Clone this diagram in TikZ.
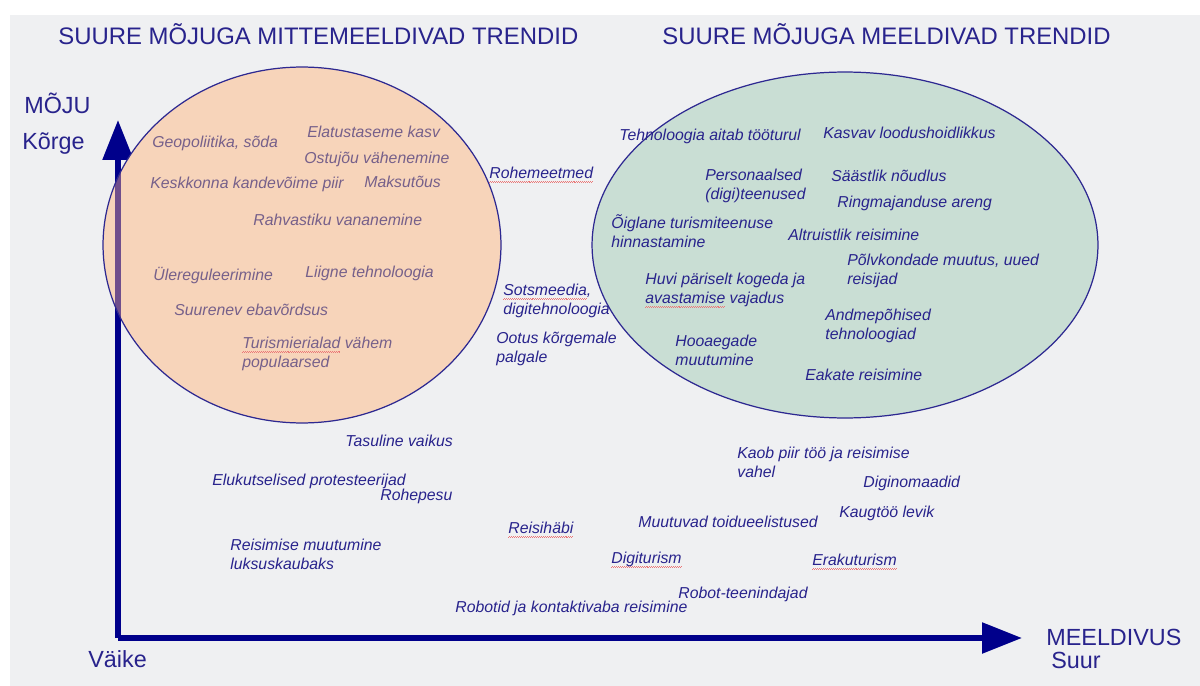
\documentclass[tikz,border=0pt]{standalone}
\usepackage{fontspec}
\setmainfont{Liberation Sans}
\usetikzlibrary{arrows.meta}

\definecolor{bggray}{RGB}{239,240,242}
\definecolor{axisblue}{RGB}{0,0,139}
\definecolor{trendblue}{RGB}{40,35,140}
\definecolor{mutedtext}{RGB}{118,96,138}
\definecolor{badfill}{RGB}{247,212,186}
\definecolor{goodfill}{RGB}{201,222,212}
\definecolor{rimblue}{RGB}{45,40,145}
\definecolor{shaftpurple}{RGB}{112,78,140}
\definecolor{wavered}{RGB}{235,120,120}

% red wavy underline of the spell checker
\newcommand\spellwave[1]{\leavevmode\setbox0\hbox{#1}%
    \rlap{\textcolor{wavered}{\hbox to \wd0{\xleaders\hbox{\rule[-2.7pt]{0.55pt}{0.35pt}\rule[-2.3pt]{0.55pt}{0.35pt}}\hfill}}}\box0\relax}

\begin{document}
\begin{tikzpicture}[x=0.02cm,y=-0.02cm,
    trend/.style={anchor=base west,inner sep=0pt,align=left,text=trendblue,
        font=\fontsize{9}{10.8}\selectfont\itshape},
    badtrend/.style={trend,text=mutedtext},
    heading/.style={anchor=base west,inner sep=0pt,text=trendblue,
        font=\fontsize{13.3}{15}\selectfont},
    axis/.style={line width=0.11cm,draw=axisblue,-{Triangle[length=0.8cm,width=0.6cm]}}]

    \useasboundingbox (0,0) rectangle (1200,686);
    \fill[bggray] (10,15) rectangle (1200,686);

    % axes
    \coordinate (origin) at (118,638);
    \coordinate (ytip) at (118,120);
    \coordinate (xtip) at (1022,638);
    \draw[axis] (origin) -- (ytip); % moju
    \draw[axis] (origin) -- (xtip); % meeldivus

    % ellipses
    \fill[badfill] (302,245) ellipse [x radius=3.98cm, y radius=3.56cm];
    \begin{scope}
        \clip (302,245) ellipse [x radius=3.98cm, y radius=3.56cm];
        \draw[line width=0.11cm,shaftpurple] (origin) -- (ytip);
    \end{scope}
    \draw[rimblue,line width=0.7pt] (302,245) ellipse [x radius=3.98cm, y radius=3.56cm];
    \filldraw[fill=goodfill,draw=rimblue,line width=0.7pt] (845,245) ellipse [x radius=5.06cm, y radius=3.46cm];

    % headings
    \node[heading,font=\fontsize{13.6}{15}\selectfont] (badtitle) at (58,45) {SUURE MÕJUGA MITTEMEELDIVAD TRENDID};
    \node[heading,font=\fontsize{13.6}{15}\selectfont] (goodtitle) at (662,45) {SUURE MÕJUGA MEELDIVAD TRENDID};
    \node[heading] (moju) at (24,113) {MÕJU};
    \node[heading] (korge) at (22,150) {Kõrge};
    \node[heading] (vaike) at (88,667) {Väike};
    \node[heading] (meeldivus) at (1046,645) {MEELDIVUS};
    \node[heading] (suur) at (1051,668) {Suur};

    % unpleasant trends (left ellipse)
    \node[badtrend] (geopol) at (152,148) {Geopoliitika, sõda};
    \node[badtrend] (elatus) at (307,137) {Elatustaseme kasv};
    \node[badtrend] (ostujou) at (304,163) {Ostujõu vähenemine};
    \node[badtrend] (keskkond) at (150,188) {Keskkonna kandevõime piir};
    \node[badtrend] (maksud) at (364,187) {Maksutõus};
    \node[badtrend] (vananemine) at (253,225) {Rahvastiku vananemine};
    \node[badtrend] (regul) at (153,280) {Ülereguleerimine};
    \node[badtrend] (liigtehno) at (305,277) {Liigne tehnoloogia};
    \node[badtrend] (ebavordsus) at (174,315) {Suurenev ebavõrdsus};
    \node[badtrend] (turismiala) at (242,367) {\spellwave{Turismierialad} vähem\\populaarsed};

    % in between
    \node[trend] (rohe) at (489,178) {\spellwave{Rohemeetmed}};
    \node[trend] (sotsmeedia) at (503,314) {\spellwave{Sotsmeedia}, \\digitehnoloogia};
    \node[trend] (palk) at (496,362) {Ootus kõrgemale\\palgale};

    % pleasant trends (right ellipse)
    \node[trend] (toojoud) at (619,140) {Tehnoloogia aitab tööturul};
    \node[trend] (loodus) at (823,138) {Kasvav loodushoidlikkus};
    \node[trend] (personaal) at (705,199) {Personaalsed\\(digi)teenused};
    \node[trend] (saastlik) at (831,181) {Säästlik nõudlus};
    \node[trend] (ringmaj) at (837,207) {Ringmajanduse areng};
    \node[trend] (hind) at (611,247) {Õiglane turismiteenuse\\hinnastamine};
    \node[trend] (altruism) at (788,240) {Altruistlik reisimine};
    \node[trend] (polvkond) at (847,284) {Põlvkondade muutus, uued\\reisijad};
    \node[trend] (kogemus) at (645,303) {Huvi päriselt kogeda ja\\\spellwave{avastamise} vajadus};
    \node[trend] (andmed) at (825,339) {Andmepõhised\\tehnoloogiad};
    \node[trend] (hooaeg) at (675,365) {Hooaegade\\muutumine};
    \node[trend] (eakad) at (805,380) {Eakate reisimine};

    % lower trends
    \node[trend] (vaikus) at (345,446) {Tasuline vaikus};
    \node[trend] (protest) at (212,485) {Elukutselised protesteerijad};
    \node[trend] (rohepesu) at (380,500) {Rohepesu};
    \node[trend] (haabi) at (508,533) {\spellwave{Reisihäbi}};
    \node[trend] (luksus) at (230,569) {Reisimise muutumine\\luksuskaubaks};
    \node[trend] (piir) at (737,477) {Kaob piir töö ja reisimise\\vahel};
    \node[trend] (nomaad) at (863,487) {Diginomaadid};
    \node[trend] (kaugtoo) at (839,517) {Kaugtöö levik};
    \node[trend] (toit) at (638,527) {Muutuvad toidueelistused};
    \node[trend] (digiturism) at (611,563) {\spellwave{Digiturism}};
    \node[trend] (erakud) at (812,565) {\spellwave{Erakuturism}};
    \node[trend] (robotteen) at (678,598) {Robot-teenindajad};
    \node[trend] (kontaktivaba) at (455,612) {Robotid ja kontaktivaba reisimine};

\end{tikzpicture}
\end{document}
